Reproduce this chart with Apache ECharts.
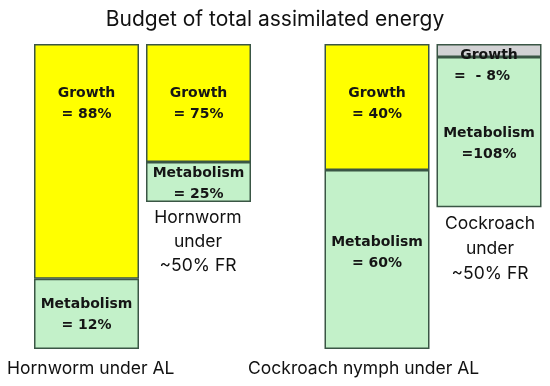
<!DOCTYPE html>
<html><head><meta charset="utf-8">
<script src="https://cdn.jsdelivr.net/npm/echarts@6/dist/echarts.min.js"></script>
<style>html,body{margin:0;padding:0;background:#fff}#c{width:550px;height:386px}</style>
</head><body><div id="c"></div>
<script>
// Categories (two panels, two bars each)
const categories = ['Hornworm under AL', 'Hornworm under ~50% FR', 'Cockroach nymph under AL', 'Cockroach under ~50% FR'];
// Drawn segment sizes (relative units, full bar = 100)
const growthDrawn = [77.0, 38.7, 41.3, 4.3];
const metabolismDrawn = [23.0, 13.1, 58.7, 49.2];
// Percent values shown in the labels
const growthPct = ['88%', '75%', '40%', '- 8%'];
const metabolismPct = ['12%', '25%', '60%', '108%'];
// Axis range
const yMax = 100;

const YELLOW = '#ffff00', GREEN = '#c3f1c9', GRAY = '#d2d2d4', BORDER = '#3a5645';
const labelFont = {fontFamily: 'DejaVu Sans', fontWeight: 'bold', fontSize: 14, color: '#151515', lineHeight: 21};

// per-bar label positions [x, y] inside segments
const growthLabelPos = [[ '50%', 39 ], [ '50%', 39 ], [ '50%', 39 ], [ '50%', 1 ]];
const growthLabelText = [
  'Growth\n= ' + growthPct[0], 'Growth\n= ' + growthPct[1], 'Growth\n= ' + growthPct[2], 'Growth\n{s|=  ' + growthPct[3] + '}'
];
const metabLabelPos = [[ '50%', 15 ], [ '50%', 1 ], [ '50%', 62 ], [ '50%', 66 ]];
const metabLabelText = [
  'Metabolism\n= ' + metabolismPct[0], 'Metabolism\n= ' + metabolismPct[1], 'Metabolism\n= ' + metabolismPct[2], 'Metabolism\n=' + metabolismPct[3]
];

function makeSeries(panel) {
  const idx = [panel * 2, panel * 2 + 1];
  return [
    {
      type: 'bar', stack: 's' + panel, xAxisIndex: panel, yAxisIndex: panel, barWidth: 105,
      data: idx.map(i => ({
        value: growthDrawn[i],
        itemStyle: {color: i === 3 ? GRAY : YELLOW, borderColor: BORDER, borderWidth: 1.5},
        label: {show: true, position: growthLabelPos[i], align: 'center', verticalAlign: 'top',
          formatter: growthLabelText[i], ...labelFont,
          rich: {s: {...labelFont, padding: [0, 14, 0, 0]}}}
      }))
    },
    {
      type: 'bar', stack: 's' + panel, xAxisIndex: panel, yAxisIndex: panel, barWidth: 105,
      data: idx.map(i => ({
        value: metabolismDrawn[i],
        itemStyle: {color: GREEN, borderColor: BORDER, borderWidth: 1.5},
        label: {show: true, position: metabLabelPos[i], align: 'center', verticalAlign: 'top',
          formatter: metabLabelText[i], ...labelFont}
      }))
    }
  ];
}

const chart = echarts.init(document.getElementById('c'), null, {renderer: 'canvas'});
const grids = [{left: 30.5, top: 44, width: 224, height: 305}, {left: 321, top: 44, width: 224, height: 305}];
const xAxes = grids.map((g, p) => ({type: 'category', gridIndex: p, data: categories.slice(p * 2, p * 2 + 2), show: false}));
const yAxes = grids.map((g, p) => ({type: 'value', gridIndex: p, min: 0, max: yMax, inverse: true, show: false}));

const catText = {fontFamily: 'Inter', fontSize: 17.5, fill: '#111'};
chart.setOption({
  animation: false,
  title: {text: 'Budget of total assimilated energy', left: 'center', top: 4,
    textStyle: {fontFamily: 'Inter', fontWeight: 'normal', fontSize: 21, color: '#111'}},
  grid: grids, xAxis: xAxes, yAxis: yAxes,
  series: [...makeSeries(0), ...makeSeries(1)],
  graphic: [
    {type: 'text', left: 7, top: 360, style: {text: categories[0], ...catText}},
    {type: 'text', left: 248, top: 360, style: {text: categories[2], ...catText}},
    {type: 'text', x: 198, y: 206, style: {text: 'Hornworm\nunder\n~50% FR', align: 'center', lineHeight: 24, ...catText}},
    {type: 'text', x: 490, y: 211, style: {text: 'Cockroach\nunder\n~50% FR', align: 'center', lineHeight: 25, ...catText}}
  ]
});
</script></body></html>
